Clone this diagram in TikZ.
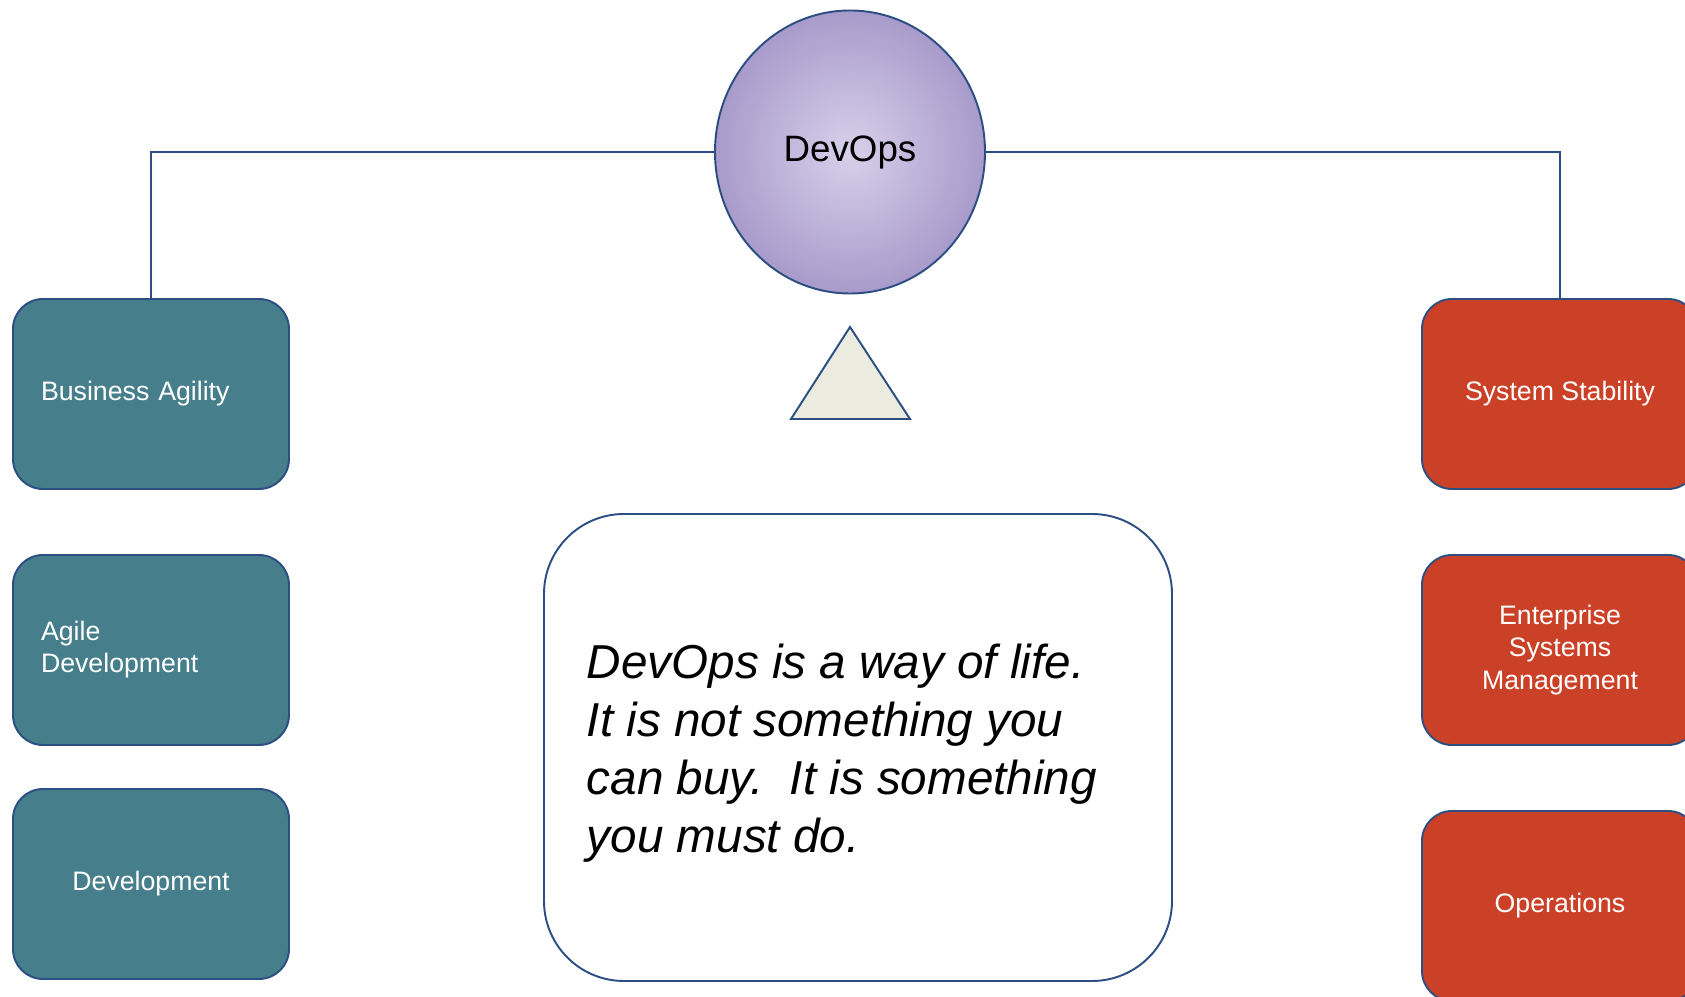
\documentclass[tikz,border=0pt]{standalone}
\usepackage{fontspec}
\setmainfont{Liberation Sans}
\usepackage{tikz}
\usetikzlibrary{shapes.geometric}

\definecolor{edgeblue}{RGB}{44,78,130}
\definecolor{tealbox}{RGB}{70,127,139}
\definecolor{redbox}{RGB}{203,65,40}
\definecolor{lilac}{RGB}{168,155,203}
\definecolor{lilaclight}{RGB}{216,208,234}
\definecolor{beige}{RGB}{236,235,224}

\begin{document}
\begin{tikzpicture}[line width=1.1pt,
    devbox/.style={draw=edgeblue, fill=tealbox, text=white, rounded corners=0.6cm,
        minimum width=5.52cm, minimum height=3.8cm, font=\fontsize{15.2}{18.3}\selectfont},
    opsbox/.style={devbox, fill=redbox, align=center}]
    \useasboundingbox (0,0) rectangle (33.7,19.94);
    % hub
    \node [ellipse, draw=edgeblue, inner color=lilaclight, outer color=lilac,
        minimum width=5.4cm, minimum height=5.66cm,
        font=\fontsize{20.9}{24}\selectfont] (hub) at (17.0,16.9) {DevOps};
    \draw [edgeblue, fill=beige] (15.82,11.56) -- (17.0,13.4) -- (18.2,11.56) -- cycle;
    % dev side
    \node [devbox, align=left, text width=4.4cm] (agility) at (3.02,12.06) {Business Agility};
    \node [devbox, align=left, text width=4.4cm] (agile) at (3.02,6.94) {Agile\\Development};
    \node [devbox, align=center] (dev) at (3.02,2.26) {Development};
    % ops side
    \node [opsbox] (stability) at (31.2,12.06) {System Stability};
    \node [opsbox] (esm) at (31.2,6.94) {Enterprise\\Systems\\Management};
    \node [opsbox] (ops) at (31.2,1.82) {Operations};
    % quote
    \node [draw=edgeblue, rounded corners=1.6cm, minimum width=12.56cm,
        minimum height=9.34cm] (quote) at (17.16,4.99) {};
    \node [anchor=west, align=left, inner sep=0pt,
        font=\fontsize{27.1}{33}\selectfont\itshape] (motto) at (11.72,4.88)
        {DevOps is a way of life.\\It is not something you\\can buy.\ \ It is something\\you must do.};
    \draw [edgeblue] (hub.west) -| (agility.north);
    \draw [edgeblue] (hub.east) -| (stability.north);
\end{tikzpicture}
\end{document}
